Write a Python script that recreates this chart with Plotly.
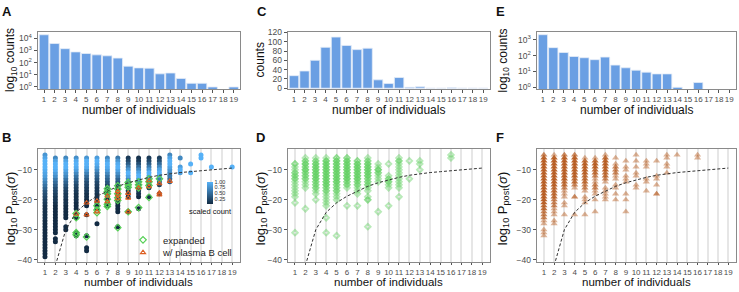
import plotly.graph_objects as go

# ---------------- data ----------------
individuals = [1, 2, 3, 4, 5, 6, 7, 8, 9, 10, 11, 12, 13, 14, 15, 16, 17, 18, 19]
tick_labels = ["1", "2", "3", "4", "5", "6", "7", "8", "9", "10", "11", "12", "13",
               "14", "15", "16", "17", "18", "19"]

# panel A / C / E: clone counts by number of individuals
a_counts = [19500, 3700, 1400, 760, 560, 435, 363, 235, 51, 37, 35, 12, 14, 5, 2, 2, 1, 0, 1]
c_counts = [27, 37, 60, 88, 110, 92, 83, 86, 18, 10, 23, 2, 3, 0, 0, 1, 0, 0, 0]
e_counts = [2050, 315, 155, 87, 73, 55, 80, 25, 17, 12, 9, 7, 7, 1, 0, 2, 0, 0, 0]

log_tickvals = [1, 10, 100, 1000, 10000]
log_ticktext = ["10<sup>0</sup>", "10<sup>1</sup>", "10<sup>2</sup>", "10<sup>3</sup>", "10<sup>4</sup>"]
c_tickvals = [0, 20, 40, 60, 80, 100, 120]
p_tickvals = [-10, -20, -30, -40]
cbar_tickvals = [0.25, 0.5, 0.75, 1.0]
cbar_ticktext = ["0.25", "0.50", "0.75", "1.00"]

# y bins (log10 Ppost) used for the binned scatter panels
y_bins = [-5, -6, -7, -8, -9, -10, -11, -12, -13, -14, -15, -16, -17, -18, -19, -20, -21,
          -22, -23, -24, -25, -26, -27, -28, -29, -30, -31, -32, -33, -34, -35, -36, -37, -38, -39]

# panel B: relative number of sequences per (individuals, y bin)
b_counts = [
    [16,18,20,20,20, 19,18,17,15,13, 11,9,7,6,5, 4,3,2,2,2, 2,2,1,1,1, 1,1,1,1,1, 1,1,1,1,1],
    [0,14,18,20,20, 19,17,15,12,10, 8,6,5,4,3, 3,2,1,1,1, 1,1,1,1,1, 1,1,0,1,1, 0,0,0,0,0],
    [0,14,18,20,20, 18,16,14,11,9, 7,5,4,3,3, 2,2,1,1,1, 1,1,0,0,1, 1,0,0,0,0, 0,0,0,0,0],
    [0,15,19,20,19, 17,14,11,9,7, 5,4,3,2,2, 2,1,1,1,0, 1,1,0,0,0, 0,1,1,0,0, 0,0,0,0,0],
    [0,16,20,20,19, 16,13,10,8,6, 5,4,3,2,2, 1,1,1,0,0, 1,0,0,0,0, 0,0,1,0,0, 0,1,1,0,0],
    [0,17,20,19,17, 14,11,9,7,5, 4,3,3,2,2, 1,1,1,1,0, 0,0,0,1,0, 0,0,0,0,0, 0,0,0,0,0],
    [0,14,18,20,19, 17,14,11,9,7, 5,4,3,3,2, 2,1,1,0,0, 0,0,0,0,0, 0,0,0,0,0, 0,0,0,0,0],
    [0,12,16,19,20, 18,15,12,9,7, 5,4,3,2,2, 2,1,1,1,1, 0,0,0,0,1, 0,0,0,0,0, 0,0,0,0,0],
    [0,3,5,8,12, 16,20,18,14,10, 7,5,3,2,2, 0,0,0,0,2, 0,0,0,0,0, 0,0,0,0,0, 0,0,0,0,0],
    [0,2,3,6,10, 14,18,20,17,12, 8,5,3,2,1, 0,0,0,1,0, 0,0,0,0,0, 0,0,0,0,0, 0,0,0,0,0],
    [0,3,5,8,12, 16,20,18,14,10, 6,3,0,0,2, 0,0,0,0,0, 0,0,0,0,0, 0,0,0,0,0, 0,0,0,0,0],
    [0,4,6,10,14, 18,20,16,12,8, 4,0,0,3,0, 0,0,0,0,0, 0,0,0,0,0, 0,0,0,0,0, 0,0,0,0,0],
    [14,18,20,20,18, 16,14,12,10,8, 0,0,0,0,0, 0,0,0,0,0, 0,0,0,0,0, 0,0,0,0,0, 0,0,0,0,0],
    [0,10,0,0,12, 14,12,0,0,0, 0,0,0,0,0, 0,0,0,0,0, 0,0,0,0,0, 0,0,0,0,0, 0,0,0,0,0],
    [0,0,0,20,0, 0,20,0,0,0, 0,0,0,0,0, 0,0,0,0,0, 0,0,0,0,0, 0,0,0,0,0, 0,0,0,0,0],
    [20,20,0,0,0, 0,0,0,0,0, 0,0,0,0,0, 0,0,0,0,0, 0,0,0,0,0, 0,0,0,0,0, 0,0,0,0,0],
    [0,0,0,0,20, 0,0,0,0,0, 0,0,0,0,0, 0,0,0,0,0, 0,0,0,0,0, 0,0,0,0,0, 0,0,0,0,0],
    [0,0,0,0,0, 0,0,0,0,0, 0,0,0,0,0, 0,0,0,0,0, 0,0,0,0,0, 0,0,0,0,0, 0,0,0,0,0],
    [0,0,0,0,20, 0,0,0,0,0, 0,0,0,0,0, 0,0,0,0,0, 0,0,0,0,0, 0,0,0,0,0, 0,0,0,0,0],
]

# panel B highlighted points
b_expanded_x = [4, 4, 4, 4, 5, 6, 6, 6, 7, 7, 7, 7, 7, 7, 8, 8, 8, 8, 8, 8,
                9, 9, 9, 9, 10, 10, 10, 10, 11, 11, 11, 11, 12]
b_expanded_y = [-24.6, -26, -31, -31.7, -32.4, -22, -23.4, -24.3, -16.3, -17.2, -18, -19.8,
                -21.5, -22.2, -15.3, -16.4, -18, -19.3, -20.2, -29.3, -14.2, -15, -15.8, -24,
                -14, -15, -16, -22.6, -13, -14, -15.2, -19.2, -13]
b_plasma_x = [4, 5, 5, 6, 6, 7, 7, 8, 8, 8, 9, 9, 9, 10, 11, 11, 12, 12, 12, 13]
b_plasma_y = [-24.8, -21, -25, -20.4, -24, -18.7, -20.6, -17.2, -18.3, -19.6, -17.8, -19.4,
              -24, -16, -13.6, -15.6, -14.6, -17.7, -18.3, -13.8]

# panel D: expanded clones, number of points per (individuals, y bin)
d_counts = [
    [0,0,0,2,1, 1,2,2,2,1, 1,1,1,1,1, 0,1,0,0,0, 0,0,0,0,0, 0,1,0,0,0, 0,0,0,0,0],
    [0,1,2,3,2, 3,2,2,2,1, 1,1,0,0,0, 0,0,0,1,0, 0,0,0,0,0, 0,0,0,0,0, 0,0,0,0,0],
    [0,1,2,3,3, 3,3,3,3,2, 2,2,1,1,0, 1,0,0,0,0, 0,0,0,0,0, 0,0,0,0,0, 0,0,0,0,0],
    [0,1,3,3,3, 3,3,3,3,3, 3,2,2,1,1, 1,1,1,0,0, 0,1,0,0,0, 0,1,0,0,0, 0,0,0,0,0],
    [0,2,3,3,3, 3,3,3,3,3, 2,2,2,1,1, 1,0,0,0,0, 0,0,0,0,0, 0,0,1,0,0, 0,0,0,0,0],
    [0,2,3,3,3, 3,3,3,3,2, 2,1,0,0,0, 0,0,1,0,0, 0,0,0,0,0, 0,0,0,0,0, 0,0,0,0,0],
    [0,0,2,3,3, 3,3,3,3,2, 2,1,1,1,0, 0,0,1,0,0, 0,0,0,0,0, 0,0,0,0,0, 0,0,0,0,0],
    [0,1,2,3,3, 3,3,3,2,2, 2,1,1,0,1, 2,0,0,0,0, 0,0,0,0,1, 0,0,0,0,0, 0,0,0,0,0],
    [0,0,0,1,1, 3,2,1,1,1, 0,0,0,0,0, 0,0,0,0,1, 0,0,0,0,0, 0,0,0,0,0, 0,0,0,0,0],
    [0,0,0,1,0, 0,0,1,2,2, 1,1,0,0,0, 0,0,1,0,0, 0,0,0,0,0, 0,0,0,0,0, 0,0,0,0,0],
    [0,1,2,1,1, 1,1,1,1,1, 1,1,0,0,1, 0,0,0,0,0, 0,0,0,0,0, 0,0,0,0,0, 0,0,0,0,0],
    [0,0,1,0,0, 0,0,0,1,0, 0,0,0,0,0, 0,0,0,0,0, 0,0,0,0,0, 0,0,0,0,0, 0,0,0,0,0],
    [0,0,1,1,0, 1,0,0,0,0, 0,0,0,0,0, 0,0,0,0,0, 0,0,0,0,0, 0,0,0,0,0, 0,0,0,0,0],
    [0,0,0,0,0, 0,0,0,0,0, 0,0,0,0,0, 0,0,0,0,0, 0,0,0,0,0, 0,0,0,0,0, 0,0,0,0,0],
    [0,0,0,0,0, 0,0,0,0,0, 0,0,0,0,0, 0,0,0,0,0, 0,0,0,0,0, 0,0,0,0,0, 0,0,0,0,0],
    [1,1,0,0,0, 0,0,0,0,0, 0,0,0,0,0, 0,0,0,0,0, 0,0,0,0,0, 0,0,0,0,0, 0,0,0,0,0],
    [0,0,0,0,0, 0,0,0,0,0, 0,0,0,0,0, 0,0,0,0,0, 0,0,0,0,0, 0,0,0,0,0, 0,0,0,0,0],
    [0,0,0,0,0, 0,0,0,0,0, 0,0,0,0,0, 0,0,0,0,0, 0,0,0,0,0, 0,0,0,0,0, 0,0,0,0,0],
    [0,0,0,0,0, 0,0,0,0,0, 0,0,0,0,0, 0,0,0,0,0, 0,0,0,0,0, 0,0,0,0,0, 0,0,0,0,0],
]

# panel F: clones with plasma B cells, number of points per (individuals, y bin)
f_counts = [
    [2,4,4,4,4, 4,4,4,4,4, 4,4,4,4,4, 4,4,3,3,2, 2,2,1,1,0, 1,1,1,0,0, 0,0,0,0,0],
    [1,4,4,4,4, 4,4,4,4,4, 4,3,3,3,3, 2,2,2,1,1, 1,0,1,1,0, 0,0,0,0,0, 0,0,0,0,0],
    [2,4,4,4,4, 4,4,4,4,3, 3,2,1,1,1, 0,1,1,0,0, 1,0,0,0,0, 0,0,0,0,0, 0,0,0,0,0],
    [2,4,4,4,4, 4,4,4,3,3, 2,1,0,0,2, 0,0,0,0,0, 1,0,0,0,0, 0,0,0,0,0, 0,0,0,0,0],
    [0,1,3,4,4, 4,4,3,3,3, 2,2,1,0,1, 1,1,0,0,0, 1,0,0,0,0, 0,0,0,0,0, 0,0,0,0,0],
    [0,1,3,4,4, 3,3,2,1,1, 2,2,1,1,0, 1,0,0,0,1, 0,0,0,0,0, 0,0,0,0,0, 0,0,0,0,0],
    [1,3,4,4,4, 4,3,3,2,1, 0,1,1,1,1, 1,0,0,0,0, 0,0,0,0,0, 0,0,0,0,0, 0,0,0,0,0],
    [0,1,0,1,2, 2,2,1,1,0, 1,1,0,1,0, 1,0,0,0,0, 0,0,0,0,0, 0,0,0,0,0, 0,0,0,0,0],
    [0,0,1,0,1, 1,0,1,1,1, 0,0,0,1,0, 1,0,0,0,1, 0,0,0,0,0, 0,0,0,0,0, 0,0,0,0,0],
    [1,0,1,0,1, 0,1,1,0,0, 1,1,0,0,0, 0,0,0,0,0, 0,0,0,0,0, 0,0,0,0,0, 0,0,0,0,0],
    [0,0,1,1,1, 0,0,0,1,1, 0,0,1,0,0, 0,0,0,0,0, 0,0,0,0,0, 0,0,0,0,0, 0,0,0,0,0],
    [0,0,1,0,0, 0,0,1,1,0, 1,0,0,2,0, 0,0,0,0,0, 0,0,0,0,0, 0,0,0,0,0, 0,0,0,0,0],
    [1,1,0,1,1, 0,1,0,0,0, 0,0,0,0,0, 0,0,0,0,0, 0,0,0,0,0, 0,0,0,0,0, 0,0,0,0,0],
    [1,0,0,0,0, 0,0,0,0,0, 0,0,0,0,0, 0,0,0,0,0, 0,0,0,0,0, 0,0,0,0,0, 0,0,0,0,0],
    [0,0,0,0,0, 0,0,0,0,0, 0,0,0,0,0, 0,0,0,0,0, 0,0,0,0,0, 0,0,0,0,0, 0,0,0,0,0],
    [1,1,0,0,0, 0,0,0,0,0, 0,0,0,0,0, 0,0,0,0,0, 0,0,0,0,0, 0,0,0,0,0, 0,0,0,0,0],
    [0,0,0,0,0, 0,0,0,0,0, 0,0,0,0,0, 0,0,0,0,0, 0,0,0,0,0, 0,0,0,0,0, 0,0,0,0,0],
    [0,0,0,0,0, 0,0,0,0,0, 0,0,0,0,0, 0,0,0,0,0, 0,0,0,0,0, 0,0,0,0,0, 0,0,0,0,0],
    [0,0,0,0,0, 0,0,0,0,0, 0,0,0,0,0, 0,0,0,0,0, 0,0,0,0,0, 0,0,0,0,0, 0,0,0,0,0],
]

# null-model threshold curve
curve_x = [2, 3, 4, 5, 6, 7, 8, 9, 10, 11, 12, 13, 14, 15, 16, 17, 18, 19]
curve_y = [-42, -30, -24.2, -21, -18.8, -17.1, -15.5, -14.3, -13.3, -12.5, -11.8, -11.3,
           -10.9, -10.6, -10.3, -10.0, -9.7, -9.4]

# ---------------- style / layout ----------------
W, H = 739, 292
FONT = "Liberation Sans, Arial, sans-serif"
BAR = "#6A9FE3"
GRID = "#e6e6e6"
FRAME = "#8a8a8a"
TICKC = "#4d4d4d"


def xdom(l, r):
    return [l / W, r / W]


def ydom(t, b):
    return [1 - b / H, 1 - t / H]


boxes = {  # left, right, top, bottom in pixels
    1: (37.7, 240.0, 28.5, 87.3),   # A
    2: (37.7, 240.0, 149.0, 265.0),  # B
    3: (287.7, 489.5, 28.5, 87.3),  # C
    4: (287.7, 490.0, 149.0, 265.0),  # D
    5: (536.7, 735.5, 28.5, 87.3),  # E
    6: (536.7, 736.0, 149.0, 265.0),  # F
}


def ax_names(i):
    return ("x" if i == 1 else f"x{i}"), ("y" if i == 1 else f"y{i}")


fig = go.Figure()


def no_zero(v):
    return [c if c > 0 else None for c in v]


# ---- bar panels ----
for i, counts in [(1, no_zero(a_counts)), (3, c_counts), (5, no_zero(e_counts))]:
    xa, ya = ax_names(i)
    fig.add_trace(go.Bar(x=individuals, y=counts, width=0.9,
                         marker=dict(color=BAR, line=dict(color="#e4ecf7", width=0.8)),
                         xaxis=xa, yaxis=ya, showlegend=False))


def binned(counts_matrix):
    xs, ys, cs = [], [], []
    for col, ind in zip(counts_matrix, individuals):
        for c, yb in zip(col, y_bins):
            if c > 0:
                xs.append(ind)
                ys.append(yb)
                cs.append(c)
    return xs, ys, cs


# ---- panel B ----
bx, by, bc = [], [], []
for col, ind in zip(b_counts, individuals):
    m = max(col) if max(col) > 0 else 1
    for c, yb in zip(col, y_bins):
        if c > 0:
            bx.append(ind)
            by.append(yb)
            bc.append(c / m)
order = sorted(range(len(bc)), key=lambda k: bc[k])
fig.add_trace(go.Scatter(
    x=[bx[k] for k in order], y=[by[k] for k in order], mode="markers",
    marker=dict(size=5, color=[bc[k] for k in order], cmin=0.05, cmax=1.0,
                colorscale=[[0, "#132B43"], [1, "#56B1F7"]], showscale=True,
                colorbar=dict(x=207 / W, xanchor="left", y=1 - 194 / H, yanchor="middle",
                              len=22, lenmode="pixels", thickness=5.5, thicknessmode="pixels",
                              tickvals=cbar_tickvals, ticktext=cbar_ticktext,
                              tickfont=dict(size=5.5, family=FONT, color="#333"),
                              ticks="", outlinewidth=0, xpad=0, ypad=0,
                              bgcolor="rgba(0,0,0,0)")),
    xaxis="x2", yaxis="y2", showlegend=False))

fig.add_trace(go.Scatter(x=b_expanded_x, y=b_expanded_y, mode="markers", name="expanded",
                         marker=dict(symbol="diamond-open", size=5, color="#55d055",
                                     line=dict(width=1.2)),
                         xaxis="x2", yaxis="y2", legend="legend"))
fig.add_trace(go.Scatter(x=b_plasma_x, y=b_plasma_y, mode="markers", name="w/ plasma B cell",
                         marker=dict(symbol="triangle-up-open", size=4.5, color="#dd5f22",
                                     line=dict(width=1.1)),
                         xaxis="x2", yaxis="y2", legend="legend2"))

# ---- panel D ----
dx, dy, dc = binned(d_counts)
fig.add_trace(go.Scatter(x=dx, y=dy, mode="markers",
                         marker=dict(symbol="diamond-open", size=4.2, color="#62d062",
                                     line=dict(width=2),
                                     opacity=[1 - (1 - 0.45) ** c for c in dc]),
                         xaxis="x4", yaxis="y4", showlegend=False))

# ---- panel F ----
fx, fy, fc = binned(f_counts)
fig.add_trace(go.Scatter(x=fx, y=fy, mode="markers",
                         marker=dict(symbol="triangle-up", size=6.3, color="#b5581b",
                                     line=dict(width=0),
                                     opacity=[1 - (1 - 0.45) ** c for c in fc]),
                         xaxis="x6", yaxis="y6", showlegend=False))

# ---- threshold curves ----
for i in (2, 4, 6):
    xa, ya = ax_names(i)
    fig.add_trace(go.Scatter(x=curve_x, y=curve_y, mode="lines",
                             line=dict(color="#333333", width=1, dash="3px,2px"),
                             xaxis=xa, yaxis=ya, showlegend=False, cliponaxis=True))

# ---- axes ----
layout = dict(width=W, height=H, margin=dict(l=0, r=0, t=0, b=0), autosize=False,
              paper_bgcolor="white", plot_bgcolor="white",
              font=dict(family=FONT, color="#222"))

common_x = dict(tickmode="array", tickvals=individuals, ticktext=tick_labels, tickangle=0,
                ticks="outside", ticklen=2.5, tickwidth=1, tickcolor="#555",
                tickfont=dict(size=8, family=FONT, color=TICKC),
                showline=True, mirror=True, linecolor=FRAME, linewidth=1.2,
                zeroline=False)
common_y = dict(ticks="outside", ticklen=3, tickwidth=1, tickcolor="#555", tickangle=0,
                tickfont=dict(size=8.5, family=FONT, color=TICKC),
                showline=True, mirror=True, linecolor=FRAME, linewidth=1.2,
                zeroline=False, showgrid=False)

for i, (l, r, t, b) in boxes.items():
    xa, ya = ax_names(i)
    xkey = "xaxis" if i == 1 else f"xaxis{i}"
    ykey = "yaxis" if i == 1 else f"yaxis{i}"
    xcfg = dict(common_x, domain=xdom(l, r), anchor=ya)
    ycfg = dict(common_y, domain=ydom(t, b), anchor=xa)
    if i in (1, 3, 5):
        xcfg.update(range=[0.4, 19.6], showgrid=False)
    else:
        xcfg.update(range=[0.3, 19.75], showgrid=True, gridcolor=GRID, gridwidth=1.5)
        ycfg.update(range=[-40.7, -3.0], tickmode="array", tickvals=p_tickvals)
    layout[xkey] = xcfg
    layout[ykey] = ycfg

layout["yaxis"].update(type="log", range=[-0.16, 4.54], tickmode="array",
                       tickvals=log_tickvals, ticktext=log_ticktext)
layout["yaxis3"].update(range=[-1.5, 121.5], tickmode="array", tickvals=c_tickvals)
layout["yaxis5"].update(type="log", range=[-0.1, 3.5], tickmode="array",
                        tickvals=log_tickvals[:4], ticktext=log_ticktext[:4])

legend_common = dict(xanchor="left", yanchor="middle", bgcolor="rgba(0,0,0,0)",
                     font=dict(size=9.5, family=FONT, color="#222"), itemwidth=30)
layout["legend"] = dict(legend_common, x=123 / W, y=1 - 242.5 / H)
layout["legend2"] = dict(legend_common, x=123 / W, y=1 - 255.5 / H)

# ---- text annotations (titles, panel letters) ----
ann = []


def add_text(txt, x, y, size, angle=0, bold=False):
    ann.append(dict(text=f"<b>{txt}</b>" if bold else txt, x=x / W, y=1 - y / H,
                    xref="paper", yref="paper", showarrow=False, textangle=angle,
                    xanchor="center", yanchor="middle",
                    font=dict(size=size, family=FONT, color="#111")))


for letter, (x, y) in {"A": (7, 7.5), "C": (262, 7.5), "E": (500, 7.5),
                       "B": (6, 137.5), "D": (260, 137.5), "F": (500, 137.5)}.items():
    add_text(letter, x, y, 13, bold=True)

xtitle = "number of individuals"
for i, (l, r, t, b) in boxes.items():
    if b < 100:
        add_text(xtitle, (l + r) / 2, b + 21.2, 12)
    else:
        add_text(xtitle, (l + r) / 2, b + 20.6, 11.5)

add_text("log<sub>10</sub> counts", 11.5, 58, 12, angle=-90)
add_text("counts", 260, 58, 12, angle=-90)
add_text("log<sub>10</sub> counts", 504, 58, 12, angle=-90)
ptitle = "log<sub>10</sub> P<sub>post</sub>(<i>σ</i>)"
add_text(ptitle, 11, 210, 13, angle=-90)
add_text(ptitle, 261, 210, 13, angle=-90)
add_text(ptitle, 503, 210, 13, angle=-90)
# colour-bar caption
add_text("scaled count", 210, 213.5, 7.5)

layout["annotations"] = ann
fig.update_layout(**layout)

fig.write_html("out.html", config={"displayModeBar": False},
               post_script="document.body.style.margin='0';document.body.style.padding='0';")
